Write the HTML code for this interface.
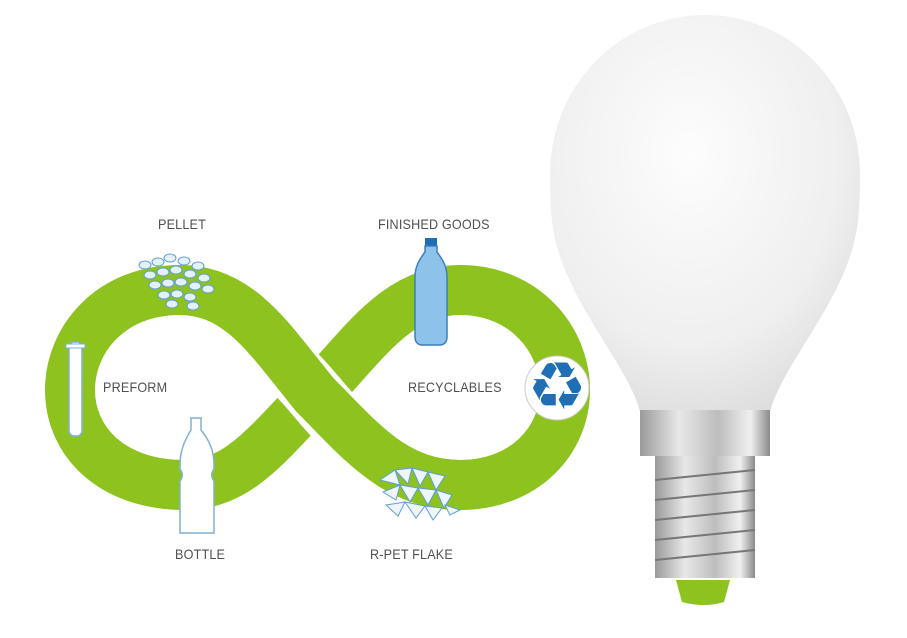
<!DOCTYPE html>
<html><head><style>
html,body{margin:0;padding:0;background:#fff;}
body{width:907px;height:638px;position:relative;overflow:hidden;font-family:"Liberation Sans",sans-serif;}
.t{position:absolute;font-size:14px;color:#505050;letter-spacing:0.2px;transform:scaleX(0.9);transform-origin:left;}
</style></head><body>
<svg width="907" height="638" style="position:absolute;left:0;top:0">
<defs>
<radialGradient id="glb" cx="0.45" cy="0.35" r="0.75">
<stop offset="0" stop-color="#fdfdfd"/><stop offset="0.65" stop-color="#efefef"/><stop offset="1" stop-color="#d8d8d8"/>
</radialGradient>
<linearGradient id="met" x1="0" x2="1">
<stop offset="0" stop-color="#9a9a9a"/><stop offset="0.3" stop-color="#e8e8e8"/><stop offset="0.6" stop-color="#bdbdbd"/><stop offset="0.85" stop-color="#f0f0f0"/><stop offset="1" stop-color="#8a8a8a"/>
</linearGradient>
</defs>
<path d="M315 395 C270 340 240 290 180 290 C110 290 70 340 70 390 C70 440 110 485 185 485 C240 485 270 440 315 395 C360 350 395 290 460 290 C525 290 565 340 565 390 C565 440 525 485 460 485 C395 485 360 440 315 395 Z" fill="none" stroke="#8dc21f" stroke-width="50"/>
<path d="M240 320 C265 345 290 365 315 395 C340 425 360 445 390 465" fill="none" stroke="#fff" stroke-width="60"/>
<path d="M180 290 C240 290 270 340 315 395 C360 440 395 485 460 485" fill="none" stroke="#8dc21f" stroke-width="50"/>
<rect x="69" y="342" width="13" height="94" rx="5" fill="#fff" stroke="#7fb0d8" stroke-width="1.5"/>
<rect x="66" y="344" width="19" height="4" fill="#fff" stroke="#7fb0d8" stroke-width="1"/>
<path d="M191 418 h10 v12 c8 10 13 20 13 35 v4 c-3 4 -3 8 0 12 v52 h-34 v-52 c3 -4 3 -8 0 -12 v-4 c0 -15 5 -25 11 -35 z" fill="#fff" stroke="#7fb0d8" stroke-width="1.5"/>
<rect x="425" y="238" width="12" height="8" fill="#1c6fb6"/>
<path d="M425 246 h12 v6 c6 8 10 15 10 25 v60 c0 5 -3 8 -7 8 h-18 c-4 0 -7 -3 -7 -8 v-60 c0 -10 4 -17 10 -25 z" fill="#8dc2ea" stroke="#3a7fc0" stroke-width="1.5"/>
<circle cx="557" cy="388" r="32" fill="#fff" stroke="#ccc" stroke-width="1"/>
<g fill="#e4f0fa" stroke="#5d9ed4" stroke-width="1">
<ellipse cx="145" cy="265" rx="6" ry="4"/><ellipse cx="158" cy="262" rx="6" ry="4"/><ellipse cx="170" cy="258" rx="6" ry="4"/><ellipse cx="184" cy="261" rx="6" ry="4"/><ellipse cx="198" cy="266" rx="6" ry="4"/>
<ellipse cx="150" cy="275" rx="6" ry="4"/><ellipse cx="163" cy="272" rx="6" ry="4"/><ellipse cx="176" cy="270" rx="6" ry="4"/><ellipse cx="190" cy="274" rx="6" ry="4"/><ellipse cx="204" cy="278" rx="6" ry="4"/>
<ellipse cx="155" cy="285" rx="6" ry="4"/><ellipse cx="168" cy="283" rx="6" ry="4"/><ellipse cx="181" cy="282" rx="6" ry="4"/><ellipse cx="195" cy="286" rx="6" ry="4"/><ellipse cx="208" cy="289" rx="6" ry="4"/>
<ellipse cx="164" cy="295" rx="6" ry="4"/><ellipse cx="177" cy="294" rx="6" ry="4"/><ellipse cx="190" cy="297" rx="6" ry="4"/><ellipse cx="172" cy="304" rx="6" ry="4"/><ellipse cx="193" cy="306" rx="6" ry="4"/>
</g>
<g fill="#eef6fc" stroke="#5d9ed4" stroke-width="1">
<polygon points="380,480 395,470 400,485"/><polygon points="395,470 412,468 408,484"/><polygon points="412,468 428,472 420,486"/><polygon points="428,472 445,476 436,490"/>
<polygon points="383,492 400,485 396,500"/><polygon points="400,485 418,488 410,502"/><polygon points="418,488 436,490 428,505"/><polygon points="436,490 452,495 444,508"/>
<polygon points="386,505 405,502 398,516"/><polygon points="405,502 425,506 416,518"/><polygon points="425,506 442,508 433,520"/><polygon points="445,505 460,510 450,515"/>
</g>
<path d="M640 412 C630 370 575 310 558 250 C552 230 550 210 550 175 C550 85 620 15 705 15 C790 15 860 85 860 175 C860 210 858 230 852 250 C835 310 780 370 770 412 Z" fill="url(#glb)"/>
<rect x="640" y="410" width="130" height="46" fill="url(#met)"/>
<rect x="655" y="456" width="100" height="122" fill="url(#met)"/>
<g stroke="#777" stroke-width="2" fill="none">
<path d="M655 480 L755 470"/><path d="M655 500 L755 490"/><path d="M655 520 L755 510"/><path d="M655 540 L755 530"/><path d="M655 560 L755 550"/>
</g>
<path d="M676 580 h54 l-6 22 q-20 6 -42 0 z" fill="#8dc21f"/>
</svg>
<div style="position:absolute;left:521px;top:354px;width:72px;text-align:center;font-size:66px;line-height:66px;color:#1e6fb5;font-family:'DejaVu Sans',sans-serif">♻</div>
<div class="t" style="left:158px;top:216px">PELLET</div>
<div class="t" style="left:378px;top:216px">FINISHED GOODS</div>
<div class="t" style="left:103px;top:379px">PREFORM</div>
<div class="t" style="left:408px;top:379px">RECYCLABLES</div>
<div class="t" style="left:175px;top:546px">BOTTLE</div>
<div class="t" style="left:370px;top:546px">R-PET FLAKE</div>
</body></html>
